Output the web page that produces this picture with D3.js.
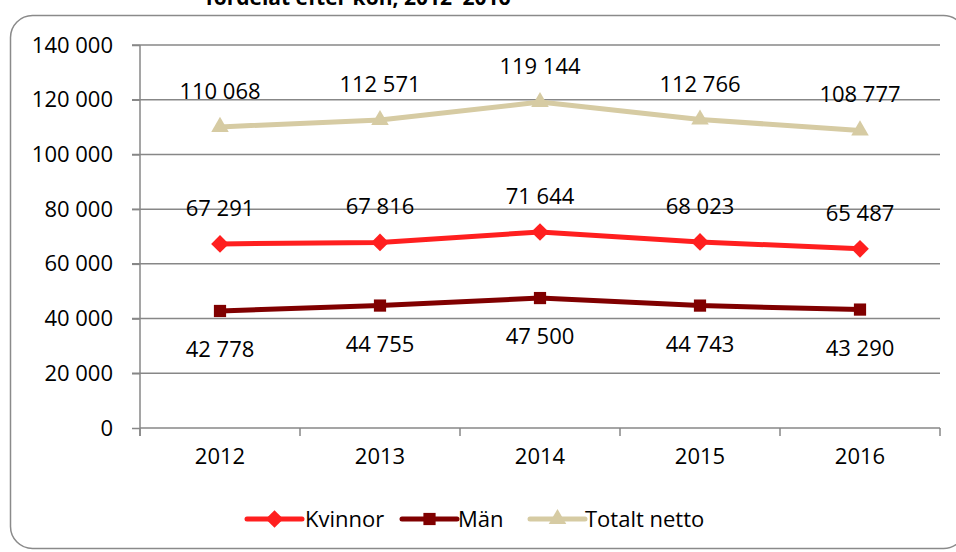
<!DOCTYPE html>
<html>
<head>
<meta charset="utf-8">
<script src="https://cdn.jsdelivr.net/npm/d3@7"></script>
<style>
  body { margin: 0; background: #fff; }
  svg { display: block; font-family: "Open Sans", sans-serif; }
</style>
</head>
<body>
<div id="chart"></div>
<script>
const years = ['2012', '2013', '2014', '2015', '2016'];
const kvinnor = [67291, 67816, 71644, 68023, 65487];
const man = [42778, 44755, 47500, 44743, 43290];
const totalt = [110068, 112571, 119144, 112766, 108777];
const yTicks = [0, 20000, 40000, 60000, 80000, 100000, 120000, 140000];

const series = [
  { name: 'Kvinnor', values: kvinnor, color: '#ff1f1f', shape: d3.symbolDiamond2, size: 200, labelPos: 'above' },
  { name: 'Män', values: man, color: '#800000', shape: d3.symbolSquare2, size: 190, labelPos: 'below' },
  { name: 'Totalt netto', values: totalt, color: '#d6cba3', shape: d3.symbolTriangle2, size: 220, labelPos: 'above' },
];

const width = 956, height = 552;
const margin = { top: 45, right: 16, bottom: 124, left: 140 };
const fontSize = 22;

const svg = d3.select('#chart').append('svg')
  .attr('width', width)
  .attr('height', height);

// frame
svg.append('rect')
  .attr('x', 10.5).attr('y', 15.5)
  .attr('width', 955).attr('height', 533)
  .attr('rx', 22).attr('ry', 22)
  .attr('fill', 'none')
  .attr('stroke', '#8a8a8a')
  .attr('stroke-width', 1.5);

// title (cut off at top, as in the source)
svg.append('text')
  .attr('x', 358).attr('y', 5)
  .attr('text-anchor', 'middle')
  .attr('font-weight', 'bold')
  .attr('font-size', 21)
  .text('fördelat efter kön, 2012–2016');

const xScale = d3.scaleBand()
  .domain(years)
  .range([margin.left, width - margin.right]);

const yScale = d3.scaleLinear()
  .domain([0, 140000])
  .range([height - margin.bottom, margin.top]);

const fmt = v => d3.format(',')(v).replace(/,/g, ' ');

// gridlines
svg.append('g')
  .selectAll('line')
  .data(yTicks.filter(d => d > 0))
  .enter().append('line')
  .attr('x1', margin.left - 8)
  .attr('x2', width - margin.right)
  .attr('y1', d => yScale(d))
  .attr('y2', d => yScale(d))
  .attr('stroke', '#878787')
  .attr('stroke-width', 1.5);

// y axis
const yAxis = d3.axisLeft(yScale)
  .tickValues(yTicks)
  .tickSize(8)
  .tickPadding(19)
  .tickFormat(fmt);

const gy = svg.append('g')
  .attr('transform', `translate(${margin.left}, 0)`)
  .call(yAxis);
gy.select('.domain').remove();
gy.append('line')
  .attr('x1', 0).attr('x2', 0)
  .attr('y1', yScale(140000)).attr('y2', yScale(0) + 8);

// x axis
const xAxis = d3.axisBottom(xScale)
  .tickSize(0)
  .tickPadding(20);
const gx = svg.append('g')
  .attr('transform', `translate(0, ${yScale(0)})`)
  .call(xAxis);
gx.select('.domain').remove();
gx.append('line')
  .attr('x1', margin.left).attr('x2', width - margin.right)
  .attr('y1', 0).attr('y2', 0);
gx.selectAll('.xtick')
  .data(d3.range(years.length + 1))
  .enter().append('line')
  .attr('class', 'xtick')
  .attr('x1', i => margin.left + i * xScale.step())
  .attr('x2', i => margin.left + i * xScale.step())
  .attr('y1', 0).attr('y2', 8);

svg.selectAll('.tick line, g line').attr('stroke', '#878787').attr('stroke-width', 1.5);
svg.selectAll('.tick text')
  .attr('font-size', fontSize)
  .attr('fill', '#000')
  .attr('font-family', '"Open Sans", sans-serif');

const cx = i => xScale(years[i]) + xScale.bandwidth() / 2;

const line = d3.line()
  .x((d, i) => cx(i))
  .y(d => yScale(d));

series.forEach(s => {
  const g = svg.append('g');
  g.append('path')
    .datum(s.values)
    .attr('d', line)
    .attr('fill', 'none')
    .attr('stroke', s.color)
    .attr('stroke-width', 5)
    .attr('stroke-linejoin', 'round');

  g.selectAll('path.marker')
    .data(s.values)
    .enter().append('path')
    .attr('class', 'marker')
    .attr('d', d3.symbol().type(s.shape).size(s.size))
    .attr('transform', (d, i) => `translate(${cx(i)}, ${yScale(d)})`)
    .attr('fill', s.color);

  g.selectAll('text')
    .data(s.values)
    .enter().append('text')
    .attr('x', (d, i) => cx(i))
    .attr('y', d => s.labelPos === 'above' ? yScale(d) - 28 : yScale(d) + 46)
    .attr('text-anchor', 'middle')
    .attr('font-size', fontSize)
    .text(fmt);
});

// legend
const legendItems = [
  { s: series[0], x: 247, tx: 305 },
  { s: series[1], x: 402, tx: 458 },
  { s: series[2], x: 530, tx: 585 },
];
const ly = 519;
const lg = svg.append('g');
legendItems.forEach(item => {
  lg.append('line')
    .attr('x1', item.x).attr('x2', item.x + 55)
    .attr('y1', ly).attr('y2', ly)
    .attr('stroke', item.s.color)
    .attr('stroke-width', 5)
    .attr('stroke-linecap', 'round');
  lg.append('path')
    .attr('d', d3.symbol().type(item.s.shape).size(item.s.size))
    .attr('transform', `translate(${item.x + 27.5}, ${ly})`)
    .attr('fill', item.s.color);
  lg.append('text')
    .attr('x', item.tx).attr('y', ly + 8)
    .attr('font-size', fontSize)
    .text(item.s.name);
});
</script>
</body>
</html>
